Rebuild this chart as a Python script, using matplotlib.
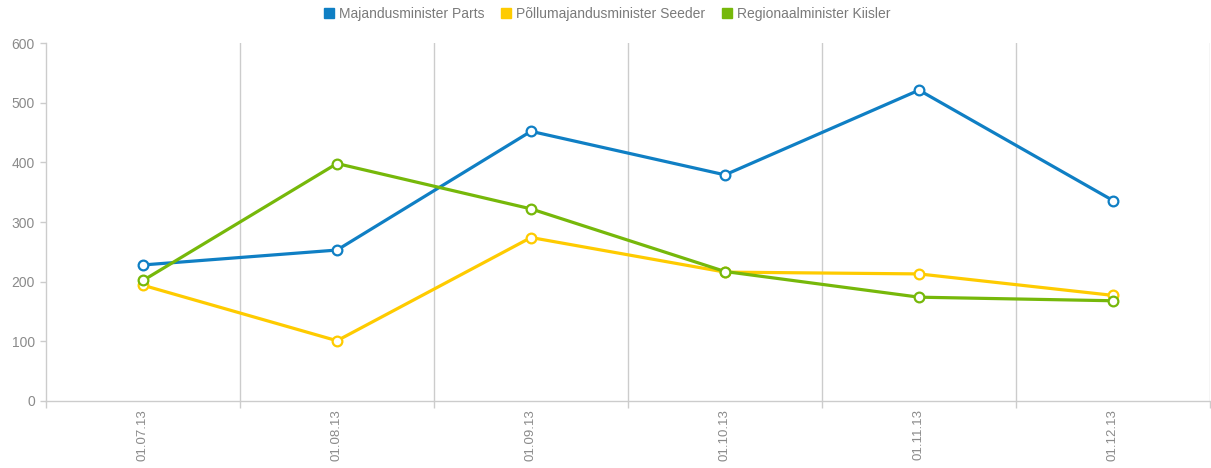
import matplotlib
matplotlib.use("Agg")
import matplotlib.pyplot as plt
from matplotlib.lines import Line2D

plt.rcParams['font.family'] = ['Liberation Sans', 'DejaVu Sans']

categories = ["01.07.13", "01.08.13", "01.09.13", "01.10.13", "01.11.13", "01.12.13"]
series_names = ["Majandusminister Parts", "Põllumajandusminister Seeder", "Regionaalminister Kiisler"]
parts = [228, 253, 452, 379, 521, 336]
seeder = [194, 101, 274, 216, 213, 177]
kiisler = [202, 398, 322, 217, 174, 168]
colors = ["#0f7fc4", "#fecb00", "#76b80a"]
y_ticks = [0, 100, 200, 300, 400, 500, 600]

W, H = 1211, 468
fig = plt.figure(figsize=(W / 100, H / 100), dpi=100)
ax = fig.add_axes([46 / W, (H - 401) / H, (1210 - 46) / W, (401 - 43) / H])

x = list(range(len(categories)))
for vals, col, name in zip([parts, seeder, kiisler], colors, series_names):
    ax.plot(x, vals, color=col, lw=2.3, marker='o', markersize=7,
            markerfacecolor='white', markeredgecolor=col, markeredgewidth=1.6,
            label=name, solid_joinstyle='round', clip_on=False, zorder=3)

ax.set_xlim(-0.5, len(categories) - 0.5)
ax.set_ylim(0, 600)

grid_col = "#cccccc"
# vertical gridlines at category boundaries
for b in range(1, len(categories) + 1):
    ax.axvline(b - 0.5, color=grid_col, lw=1, zorder=1)

ax.set_xticks(x)
ax.set_xticklabels(categories, rotation=90, fontsize=9.5, color="#8a8a8a")
ax.tick_params(axis='x', length=0, pad=6)
ax.set_xticks([b - 0.5 for b in range(len(categories) + 1)], minor=True)
ax.tick_params(axis='x', which='minor', length=5, color=grid_col, width=1)

ax.set_yticks(y_ticks)
ax.set_yticklabels([str(v) for v in y_ticks], fontsize=10, color="#8a8a8a")
ax.tick_params(axis='y', length=4, color=grid_col, width=1, pad=4)

for side in ['top', 'right']:
    ax.spines[side].set_visible(False)
for side in ['left', 'bottom']:
    ax.spines[side].set_color(grid_col)
    ax.spines[side].set_linewidth(1)

handles = [Line2D([0], [0], marker='s', linestyle='none', markersize=7,
                  markerfacecolor=c, markeredgecolor=c) for c in colors]
leg = fig.legend(handles, series_names, loc='center', bbox_to_anchor=(0.5, 1 - 14 / H),
                 ncol=3, frameon=False, fontsize=10, handletextpad=0.1,
                 columnspacing=1.0, handlelength=1.2)
for t in leg.get_texts():
    t.set_color("#7a7a7a")

fig.savefig("out.png", dpi=100)
